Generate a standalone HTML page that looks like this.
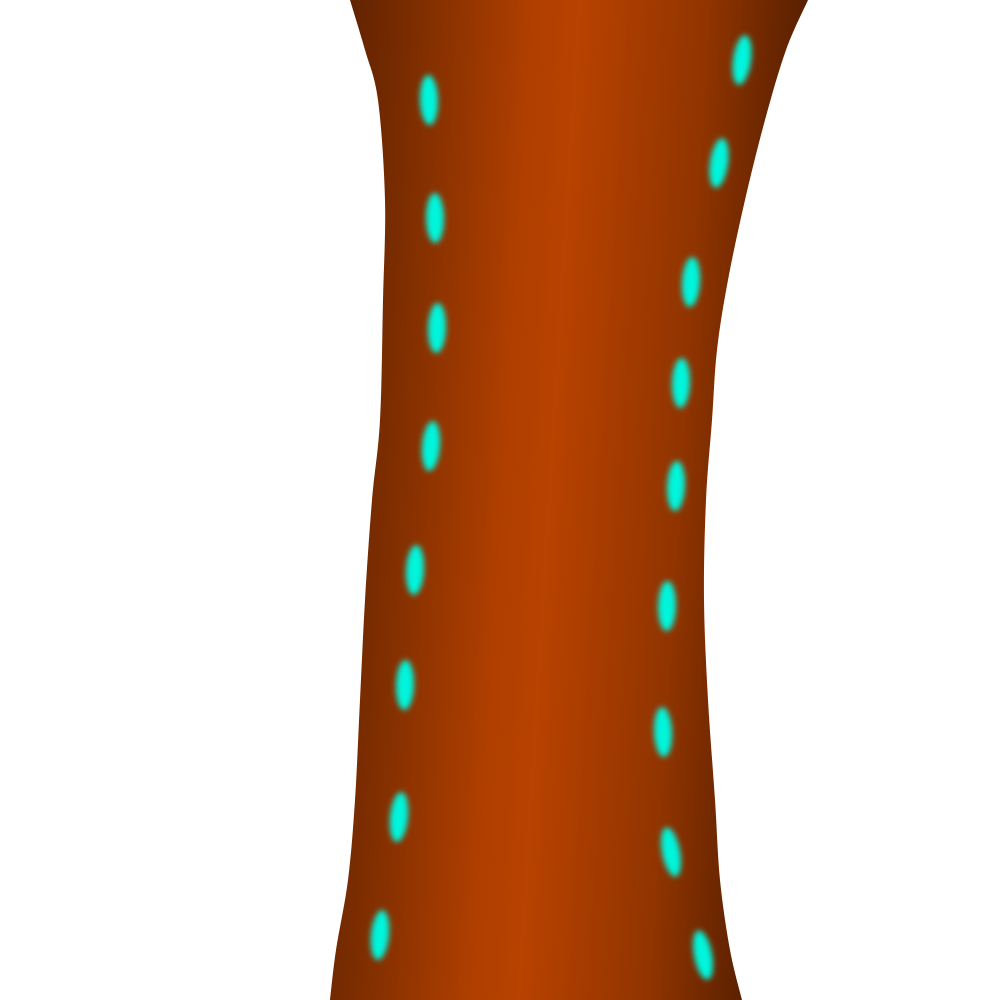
<!DOCTYPE html>
<html>
<head>
<meta charset="utf-8">
<style>
  html,body{margin:0;padding:0;background:#fff;width:1000px;height:1000px;overflow:hidden;}
  svg{display:block;}
</style>
</head>
<body>
<svg id="chart" width="1000" height="1000" viewBox="0 0 1000 1000" xmlns="http://www.w3.org/2000/svg">
  <defs>
    <linearGradient id="tubeGrad" x1="340" y1="0" x2="800" y2="28" gradientUnits="userSpaceOnUse">
      <stop offset="0" stop-color="#5e2100"/>
      <stop offset="0.12" stop-color="#742a00"/>
      <stop offset="0.42" stop-color="#b03f00"/>
      <stop offset="0.52" stop-color="#b84200"/>
      <stop offset="0.8" stop-color="#903400"/>
      <stop offset="1" stop-color="#5c2100"/>
    </linearGradient>
    <filter id="blur" x="-50%" y="-50%" width="200%" height="200%">
      <feGaussianBlur stdDeviation="3"/>
    </filter>
  </defs>
  <path id="tube" fill="url(#tubeGrad)"/>
  <g id="dots"></g>
</svg>
<script>
const leftX = [429, 435, 437, 431, 415, 405, 399, 380];
const leftY = [100, 218, 328, 446, 570, 685, 817, 935];
const rightX = [742, 719, 691, 681, 676, 667, 663, 671, 703];
const rightY = [60, 163, 282, 383, 486, 606, 732, 852, 955];
const edgeL = [[350,0],[365,50],[378,100],[385,200],[383,300],[380,420],[372,500],[365,600],[360,700],[355,800],[348,880],[336,950],[330,1000]];
const edgeR = [[808,0],[786,50],[765,120],[745,200],[728,280],[717,350],[712,420],[706,500],[704,600],[708,700],[715,800],[720,880],[730,950],[742,1000]];
function smooth(pts){
  let d = "";
  for (let i = 0; i < pts.length - 1; i++) {
    const p0 = pts[Math.max(i-1,0)], p1 = pts[i], p2 = pts[i+1], p3 = pts[Math.min(i+2,pts.length-1)];
    const c1 = [p1[0]+(p2[0]-p0[0])/6, p1[1]+(p2[1]-p0[1])/6];
    const c2 = [p2[0]-(p3[0]-p1[0])/6, p2[1]-(p3[1]-p1[1])/6];
    d += " C" + c1 + " " + c2 + " " + p2;
  }
  return d;
}
const rev = edgeR.slice().reverse();
document.getElementById("tube").setAttribute("d",
  "M" + edgeL[0] + smooth(edgeL) + " L" + rev[0] + smooth(rev) + " Z");
const ns = "http://www.w3.org/2000/svg";
const g = document.getElementById("dots");
function addDot(x, y, tilt, name){
  const e = document.createElementNS(ns, "ellipse");
  e.setAttribute("cx", x);
  e.setAttribute("cy", y);
  e.setAttribute("rx", 9);
  e.setAttribute("ry", 25);
  e.setAttribute("fill", "#00f5dc");
  e.setAttribute("filter", "url(#blur)");
  e.setAttribute("transform", "rotate(" + tilt + " " + x + " " + y + ")");
  
  
  g.appendChild(e);
}
for (let i = 0; i < leftX.length; i++) {
  const j = Math.min(i, leftX.length - 2);
  const tilt = (leftX[j+1]-leftX[j]) / (leftY[j+1]-leftY[j]) * -35;
  addDot(leftX[i], leftY[i], tilt, "left-dot");
}
for (let i = 0; i < rightX.length; i++) {
  const j = Math.min(i, rightX.length - 2);
  const tilt = (rightX[j+1]-rightX[j]) / (rightY[j+1]-rightY[j]) * -35;
  addDot(rightX[i], rightY[i], tilt, "right-dot");
}
</script>
</body>
</html>
